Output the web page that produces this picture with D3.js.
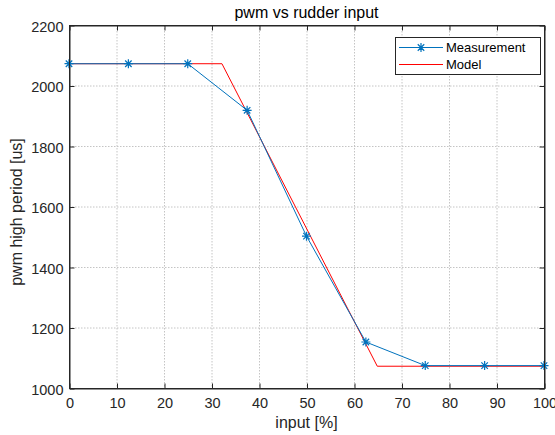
<!DOCTYPE html>
<html>
<head>
<meta charset="utf-8">
<script src="https://cdn.jsdelivr.net/npm/d3@7"></script>
<style>
  html, body { margin: 0; padding: 0; background: #fff; }
  svg { display: block; font-family: Arial, "Liberation Sans", Helvetica, sans-serif; }
</style>
</head>
<body>
<svg id="chart" width="555" height="435"></svg>
<script>
// Measured pwm high period at each rudder input step
const measInput = [0, 12.5, 25, 37.5, 50, 62.5, 75, 87.5, 100];
const measPwm = [2072, 2072, 2072, 1918, 1502, 1152, 1074, 1074, 1074];

// Piecewise-linear model (saturated at both ends)
const modelInput = [0, 32.2, 64.9, 100];
const modelPwm = [2072, 2072, 1072, 1072];

const xTicks = [0, 10, 20, 30, 40, 50, 60, 70, 80, 90, 100];
const yTicks = [1000, 1200, 1400, 1600, 1800, 2000, 2200];

const svg = d3.select("#chart");
const L = 69, R = 544, T = 25, B = 388;

const x = d3.scaleLinear().domain([0, 100]).range([L, R]);
const y = d3.scaleLinear().domain([1000, 2200]).range([B, T]);

const axisColor = "#262626";
const fontStack = "Arial, 'Liberation Sans', Helvetica, sans-serif";

// dotted grid
const grid = svg.append("g");
grid.selectAll("line.gx").data(xTicks).join("line")
  .attr("x1", d => x(d) + 0.5).attr("x2", d => x(d) + 0.5)
  .attr("y1", T).attr("y2", B)
  .attr("stroke", "#c4c4c4").attr("stroke-width", 1).attr("stroke-dasharray", "1.5,1.5");
grid.selectAll("line.gy").data(yTicks).join("line")
  .attr("y1", d => y(d) + 0.5).attr("y2", d => y(d) + 0.5)
  .attr("x1", L).attr("x2", R)
  .attr("stroke", "#c4c4c4").attr("stroke-width", 1).attr("stroke-dasharray", "1.5,1.5");

// axes with inward ticks on all four sides
const fmt = d3.format("d");
const axBottom = svg.append("g").attr("transform", `translate(0.5,${B + 0.5})`)
  .call(d3.axisBottom(x).tickValues(xTicks).tickFormat(fmt).tickSizeInner(-5).tickSizeOuter(0).tickPadding(9));
const axTop = svg.append("g").attr("transform", `translate(0.5,${T + 0.5})`)
  .call(d3.axisTop(x).tickValues(xTicks).tickFormat("").tickSizeInner(-5).tickSizeOuter(0));
const axLeft = svg.append("g").attr("transform", `translate(${L + 0.5},0.5)`)
  .call(d3.axisLeft(y).tickValues(yTicks).tickFormat(fmt).tickSizeInner(-5).tickSizeOuter(0).tickPadding(6));
const axRight = svg.append("g").attr("transform", `translate(${R + 0.5},0.5)`)
  .call(d3.axisRight(y).tickValues(yTicks).tickFormat("").tickSizeInner(-5).tickSizeOuter(0));

[axBottom, axTop, axLeft, axRight].forEach(g => {
  g.select(".domain").attr("stroke", axisColor);
  g.selectAll(".tick line").attr("stroke", axisColor);
  g.selectAll("text").attr("fill", axisColor).attr("font-size", 14.5)
    .attr("font-family", fontStack);
});
axBottom.selectAll("text").attr("dy", "0.71em");
axLeft.selectAll("text").attr("dy", "0.4em");

// series
const line = d3.line().x(d => x(d[0])).y(d => y(d[1]));
const measData = measInput.map((v, i) => [v, measPwm[i]]);
const modelData = modelInput.map((v, i) => [v, modelPwm[i]]);

const plot = svg.append("g");
plot.append("path").datum(modelData).attr("d", line)
  .attr("fill", "none").attr("stroke", "#ff0000").attr("stroke-width", 1);
plot.append("path").datum(measData).attr("d", line)
  .attr("fill", "none").attr("stroke", "#0072bd").attr("stroke-width", 1);

// asterisk marker
function star(cx, cy, r) {
  const d = r * 0.72;
  return `M${cx - r},${cy}L${cx + r},${cy}M${cx},${cy - r}L${cx},${cy + r}` +
         `M${cx - d},${cy - d}L${cx + d},${cy + d}M${cx - d},${cy + d}L${cx + d},${cy - d}`;
}
plot.selectAll("path.star").data(measData).join("path")
  .attr("class", "star")
  .attr("d", d => star(x(d[0]), y(d[1]), 4.5))
  .attr("fill", "none").attr("stroke", "#0072bd").attr("stroke-width", 1.2);

// axes box drawn over the data
svg.append("rect").attr("x", L + 0.5).attr("y", T + 0.5).attr("width", R - L).attr("height", B - T)
  .attr("fill", "none").attr("stroke", axisColor).attr("stroke-width", 1);

// title and axis labels
svg.append("text").attr("x", 306.5).attr("y", 18).attr("text-anchor", "middle")
  .attr("font-size", 16).attr("fill", "#000").text("pwm vs rudder input");
svg.append("text").attr("x", 306.5).attr("y", 428).attr("text-anchor", "middle")
  .attr("font-size", 16).attr("fill", axisColor).text("input [%]");
svg.append("text").attr("transform", `translate(22,212) rotate(-90)`)
  .attr("text-anchor", "middle").attr("font-size", 16).attr("fill", axisColor)
  .text("pwm high period [us]");

// legend
const lg = svg.append("g");
lg.append("rect").attr("x", 395.5).attr("y", 37.5).attr("width", 145).attr("height", 37)
  .attr("fill", "#fff").attr("stroke", axisColor).attr("stroke-width", 1);
const legendItems = [
  { name: "Measurement", color: "#0072bd", marker: true, yy: 47.5 },
  { name: "Model", color: "#ff0000", marker: false, yy: 64.5 }
];
legendItems.forEach(it => {
  lg.append("line").attr("x1", 399).attr("x2", 443).attr("y1", it.yy).attr("y2", it.yy)
    .attr("stroke", it.color).attr("stroke-width", 1);
  if (it.marker) {
    lg.append("path").attr("d", star(421, it.yy, 4.5))
      .attr("fill", "none").attr("stroke", it.color).attr("stroke-width", 1.2);
  }
  lg.append("text").attr("x", 446).attr("y", it.yy).attr("dy", "0.35em")
    .attr("font-size", 13).attr("fill", "#000").text(it.name);
});
</script>
</body>
</html>
